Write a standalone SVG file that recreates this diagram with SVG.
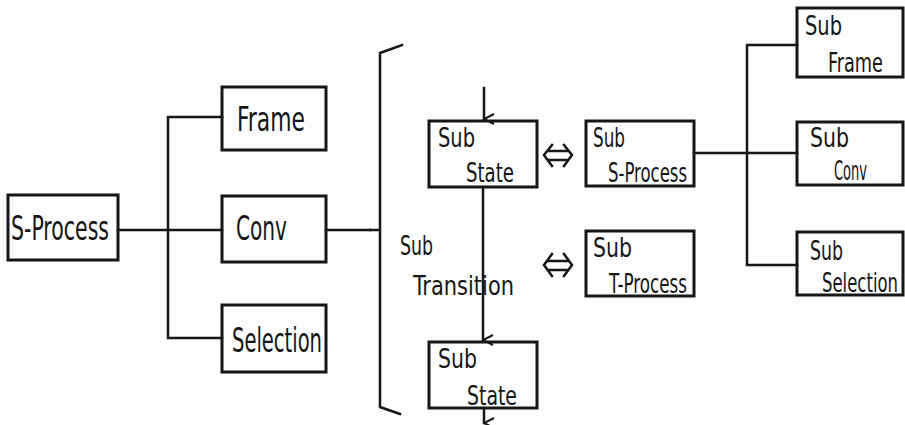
<svg xmlns="http://www.w3.org/2000/svg" width="905" height="425" viewBox="0 0 905 425">
  <style>
    .box { fill: none; stroke: #161616; stroke-width: 3; }
    .ln { fill: none; stroke: #161616; stroke-width: 2.5; stroke-linecap: square; }
    .t { font-family: "DejaVu Sans Condensed", "Liberation Sans", sans-serif; fill: #161616; font-size: 34px; }
    .s { font-size: 26px; }
  </style>
  <defs>
    <marker id="arr" viewBox="0 0 12 12" refX="6" refY="11" markerWidth="12" markerHeight="12" markerUnits="userSpaceOnUse" orient="auto-start-reverse">
      <path d="M1,1 L6,11 L11,1" fill="none" stroke="#161616" stroke-width="2"/>
    </marker>
  </defs>
  <rect width="905" height="425" fill="#fdfdfd"/>

  <g id="connectors">
    <!-- S-Process tree -->
    <path class="ln" d="M118,230 H222 M168,117 V338 M168,117 H222 M168,338 H222"/>
    <path class="ln" d="M326,230 H370"/>
    <!-- bracket -->
    <path class="ln" d="M402,45 L380,53 V407 L400,414 M370,230 H380"/>
    <!-- state transitions -->
    <path class="ln" d="M484,88 V119" marker-end="url(#arr)"/>
    <path class="ln" d="M483,187 V340" marker-end="url(#arr)"/>
    <path class="ln" d="M484,408 V423" marker-end="url(#arr)"/>
    <!-- equivalence symbols -->
    <path class="ln" d="M552,145 L544,155 L552,166 M564,145 L572,155 L564,166 M548,151 H568 M548,160 H568"/>
    <path class="ln" d="M552,254 L544,265 L552,276 M564,254 L572,265 L564,276 M548,261 H568 M548,270 H568"/>
    <!-- Sub S-Process tree -->
    <path class="ln" d="M694,153 H797 M747,45 V265 M747,45 H797 M747,265 H797"/>
  </g>

  <g id="s-process">
    <rect class="box" x="8" y="195" width="110" height="65"/>
    <text class="t" x="11" y="240" textLength="98" lengthAdjust="spacingAndGlyphs">S-Process</text>
  </g>
  <g id="frame">
    <rect class="box" x="222" y="87" width="104" height="63"/>
    <text class="t" x="237" y="131" textLength="68" lengthAdjust="spacingAndGlyphs">Frame</text>
  </g>
  <g id="conv">
    <rect class="box" x="222" y="196" width="104" height="66"/>
    <text class="t" x="236" y="240" textLength="51" lengthAdjust="spacingAndGlyphs">Conv</text>
  </g>
  <g id="selection">
    <rect class="box" x="222" y="305" width="104" height="67"/>
    <text class="t" x="232" y="352" textLength="90" lengthAdjust="spacingAndGlyphs">Selection</text>
  </g>

  <g id="sub-state-1">
    <rect class="box" x="429" y="121" width="108" height="66"/>
    <text class="t s" x="438" y="147" textLength="37" lengthAdjust="spacingAndGlyphs">Sub</text>
    <text class="t s" x="466" y="182" textLength="48" lengthAdjust="spacingAndGlyphs">State</text>
  </g>
  <g id="sub-transition">
    <text class="t s" x="400" y="255" textLength="33" lengthAdjust="spacingAndGlyphs">Sub</text>
    <text class="t s" x="413" y="295" textLength="101" lengthAdjust="spacingAndGlyphs">Transition</text>
  </g>
  <g id="sub-state-2">
    <rect class="box" x="429" y="342" width="108" height="66"/>
    <text class="t s" x="438" y="368" textLength="39" lengthAdjust="spacingAndGlyphs">Sub</text>
    <text class="t s" x="467" y="405" textLength="50" lengthAdjust="spacingAndGlyphs">State</text>
  </g>
  <g id="sub-s-process">
    <rect class="box" x="586" y="121" width="108" height="65"/>
    <text class="t s" x="593" y="147" textLength="32" lengthAdjust="spacingAndGlyphs">Sub</text>
    <text class="t s" x="608" y="182" textLength="79" lengthAdjust="spacingAndGlyphs">S-Process</text>
  </g>
  <g id="sub-t-process">
    <rect class="box" x="586" y="231" width="108" height="65"/>
    <text class="t s" x="593" y="257" textLength="39" lengthAdjust="spacingAndGlyphs">Sub</text>
    <text class="t s" x="609" y="293" textLength="78" lengthAdjust="spacingAndGlyphs">T-Process</text>
  </g>
  <g id="sub-frame">
    <rect class="box" x="797" y="8" width="106" height="69"/>
    <text class="t s" x="805" y="35" textLength="37" lengthAdjust="spacingAndGlyphs">Sub</text>
    <text class="t s" x="828" y="72" textLength="55" lengthAdjust="spacingAndGlyphs">Frame</text>
  </g>
  <g id="sub-conv">
    <rect class="box" x="797" y="122" width="106" height="63"/>
    <text class="t s" x="810" y="147" textLength="39" lengthAdjust="spacingAndGlyphs">Sub</text>
    <text class="t s" x="834" y="180" textLength="33" lengthAdjust="spacingAndGlyphs">Conv</text>
  </g>
  <g id="sub-selection">
    <rect class="box" x="797" y="232" width="106" height="63"/>
    <text class="t s" x="810" y="260" textLength="33" lengthAdjust="spacingAndGlyphs">Sub</text>
    <text class="t s" x="822" y="292" textLength="76" lengthAdjust="spacingAndGlyphs">Selection</text>
  </g>
</svg>
